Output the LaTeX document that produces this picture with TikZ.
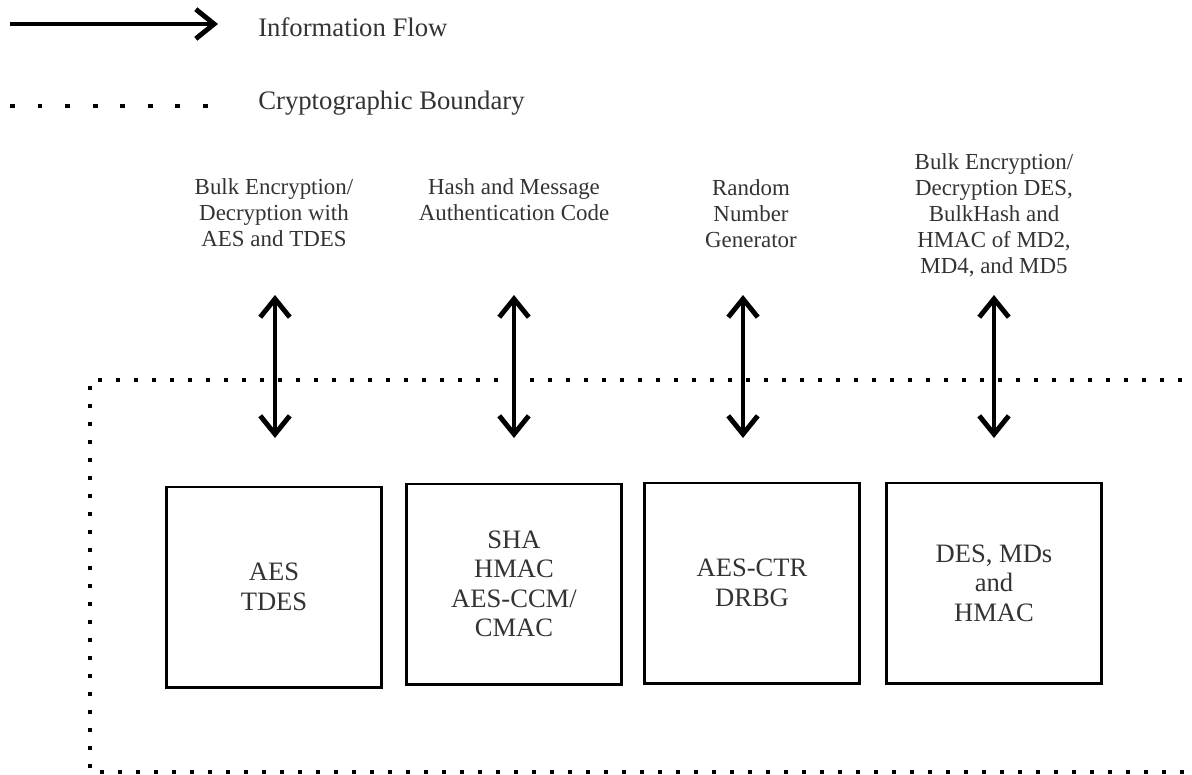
\documentclass[tikz,border=0pt]{standalone}
\usepackage{fontspec}
\setmainfont{Liberation Serif}
\usetikzlibrary{arrows.meta,positioning}
\tikzset{
blk/.style={draw,line width=2.1pt,minimum width=5.375cm,minimum height=5cm,align=center,text=black!80,font=\fontsize{18.9}{21}\selectfont},
lbl/.style={align=center,inner sep=0pt,text=black!80,font=\fontsize{16.3}{18.5}\selectfont},
lgd/.style={anchor=west,inner sep=0pt,text=black!80,font=\fontsize{19}{21}\selectfont},
flow/.style={line width=3.5pt,{Straight Barb[length=13pt,width=21pt]}-{Straight Barb[length=13pt,width=21pt]}},
flowone/.style={line width=3.5pt,-{Straight Barb[length=13pt,width=21pt]}},
bound/.style={line width=2.85pt,dash pattern=on 2.85pt off 9.95pt},
lgddots/.style={line width=3.5pt,dash pattern=on 3.5pt off 16.1pt}
}
\begin{document}
\begin{tikzpicture}[x=0.025cm,y=-0.025cm]
\useasboundingbox (0,0) rectangle (1192,775);
% legend
\coordinate (fa) at (10,24);\coordinate (fb) at (218,24);
\draw[flowone](fa)--(fb);
\node[lgd](flowtxt)at(258,27){Information Flow};
\coordinate (da) at (10,106);\coordinate (db) at (210,106);
\draw[lgddots](da)--(db);
\node[lgd](boundtxt)at(258,103){Cryptographic Boundary};
% cryptographic boundary
\coordinate (bnw) at (90,380);\coordinate (bsw) at (90,772);
\coordinate (bne) at (1200,380);\coordinate (bse) at (1200,772);
\draw[bound](bne)--(bnw)--(bsw)--(bse);
% services
\node[lbl](aeslbl)at(274,213){Bulk Encryption/\\Decryption with\\AES and TDES};
\node[lbl](shalbl)at(514,200){Hash and Message\\Authentication Code};
\node[lbl](rnglbl)at(751,214){Random\\Number\\Generator};
\node[lbl](deslbl)at(994,215){Bulk Encryption/\\Decryption DES,\\BulkHash and\\HMAC of MD2,\\MD4, and MD5};
% algorithms
\node[blk](aes)at(274,587){AES\\TDES};
\node[blk](sha)at(514,584){SHA\\HMAC\\AES-CCM/\\CMAC};
\node[blk](rng)at(752,583){AES-CTR\\DRBG};
\node[blk](des)at(994,583){DES, MDs\\and\\HMAC};
% information flow
\coordinate (aest) at (275,295);\coordinate (aesb) at (275,438);
\coordinate (shat) at (514,295);\coordinate (shab) at (514,438);
\coordinate (rngt) at (743,295);\coordinate (rngb) at (743,438);
\coordinate (dest) at (994,295);\coordinate (desb) at (994,438);
\draw[flow](aest)--(aesb);
\draw[flow](shat)--(shab);
\draw[flow](rngt)--(rngb);
\draw[flow](dest)--(desb);
\end{tikzpicture}
\end{document}
